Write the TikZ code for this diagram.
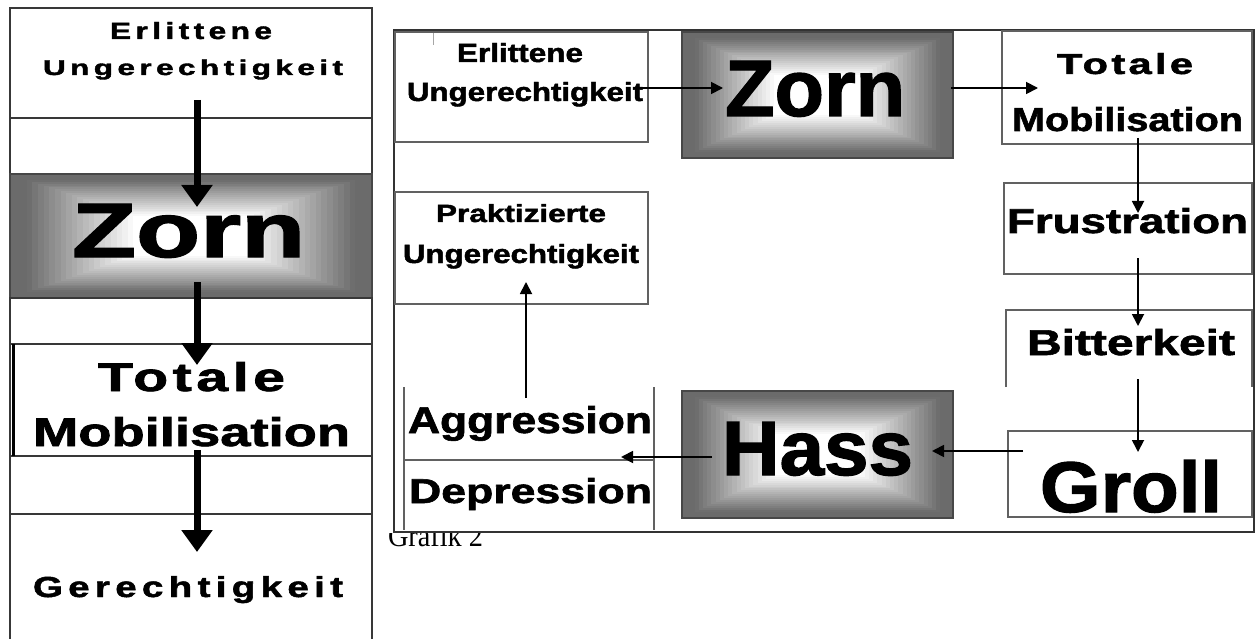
\documentclass[tikz,border=0pt]{standalone}
\usepackage{fontspec}
\setmainfont{Liberation Sans}
\newfontfamily\seriffont{Liberation Serif}
\newfontfamily\heavyfont[FakeBold=1.6]{Liberation Sans Bold}
\newfontfamily\heavyfontS[FakeBold=1.6,LetterSpace=8]{Liberation Sans Bold}
\newfontfamily\heavyfontM[FakeBold=1.6,LetterSpace=14]{Liberation Sans Bold}
\usepackage{graphicx}
\usetikzlibrary{calc,arrows.meta}
\newcommand{\fitT}[3]{\resizebox{#1pt}{#2pt}{\heavyfont #3}}
\newcommand{\fitS}[3]{\resizebox{#1pt}{#2pt}{\heavyfontS #3}}
\newcommand{\fitM}[3]{\resizebox{#1pt}{#2pt}{\heavyfontM #3}}
\tikzset{
  cellL/.style={draw=black!78, line width=1.4pt, inner sep=0pt, outer sep=0pt},
  boxR/.style={draw=black!62, line width=1.3pt, inner sep=0pt, outer sep=0pt},
  shadebox/.style={draw=black!72, line width=1.5pt, inner sep=0pt, outer sep=0pt,
    path picture={
      \foreach \k in {0,...,26}{
        \pgfmathsetmacro{\shT}{\k*0.0155}
        \pgfmathsetmacro{\shG}{min(1,max(0.42,0.42+0.58*(\shT-0.04)/0.30))}
        \definecolor{shd}{gray}{\shG}
        \fill[shd] ($(path picture bounding box.south west)!\shT!(path picture bounding box.north east)$)
          rectangle ($(path picture bounding box.north east)!\shT!(path picture bounding box.south west)$);
      }
    }},
  lbl/.style={inner sep=0pt, outer sep=0pt, anchor=base west, text=black},
  bigarrow/.style={line width=7pt, -{Triangle[length=22pt,width=30pt]}},
  smallarrow/.style={line width=1.8pt, -{Triangle[length=12pt,width=12pt]}},
  frameline/.style={draw=black!80, line width=2pt},
  openbox/.style={draw=black!62, line width=1.3pt},
}
\begin{document}
\begin{tikzpicture}[x=1pt, y=-1pt]
\useasboundingbox (0,0) rectangle (1255,639);
\fill[white] (0,0) rectangle (1255,639);

% ---------- left panel ----------
\node[cellL, minimum width=362pt, minimum height=110pt] (lTop) at (191,63) {};
\node[cellL, minimum width=362pt, minimum height=56pt] (lGap1) at (191,146) {};
\node[shadebox, minimum width=362pt, minimum height=124pt] (lZorn) at (191,236) {};
\node[cellL, minimum width=362pt, minimum height=46pt] (lGap2) at (191,321) {};
\node[cellL, minimum width=362pt, minimum height=112pt] (lTot) at (191,400) {};
\node[cellL, minimum width=362pt, minimum height=58pt] (lGap3) at (191,485) {};
\node[cellL, minimum width=362pt, minimum height=146pt] (lGer) at (191,587) {};
\draw[black, line width=3.5pt] (lTot.north west) ++(3.5pt,0) coordinate (lTotEdgeA) -- (lTotEdgeA |- lTot.south);

\node[lbl] (lErl) at (110,39) {\fitM{162}{17}{Erlittene}};
\node[lbl] (lUng) at (43,75) {\fitM{300}{15.5}{Ungerechtigkeit}};
\node[lbl] (lZornT) at (72,257) {\fitT{233}{53}{Zorn}};
\node[lbl] (lTotT) at (98,391) {\fitS{187}{29}{Totale}};
\node[lbl] (lMob) at (33,446) {\fitT{317}{29}{Mobilisation}};
\node[lbl] (lGerT) at (33,597) {\fitM{310}{21}{Gerechtigkeit}};

\coordinate (la1s) at (197,100);
\coordinate (la1e) at (197,207);
\coordinate (la2s) at (197,282);
\coordinate (la2e) at (197,365);
\coordinate (la3s) at (197,450);
\coordinate (la3e) at (197,552);
\draw[bigarrow] (la1s) -- (la1e);
\draw[bigarrow] (la2s) -- (la2e);
\draw[bigarrow] (la3s) -- (la3e);

% ---------- right panel ----------
\draw[frameline] (394,30) rectangle (1254,532);
\draw[gray!70, line width=1pt] (433,33) -- (433,45);

\node[boxR, minimum width=253pt, minimum height=110pt] (rErl) at (521.5,87) {};
\node[shadebox, minimum width=271pt, minimum height=126pt] (rZorn) at (817.5,95) {};
\node[boxR, minimum width=250pt, minimum height=113pt] (rTot) at (1127,87.5) {};
\node[boxR, minimum width=248pt, minimum height=91pt] (rFru) at (1128,228.5) {};
\draw[openbox] (1006,387) -- (1006,310) -- (1252,310) -- (1252,387);
\node[boxR, minimum width=244pt, minimum height=86pt] (rGro) at (1130,474) {};
\node[shadebox, minimum width=271pt, minimum height=127pt] (rHas) at (817.5,454.5) {};
\node[boxR, minimum width=253pt, minimum height=112pt] (rPra) at (521.5,248) {};
\draw[openbox] (404,387) -- (404,530);
\draw[openbox] (654,387) -- (654,530);
\draw[openbox] (404,460) -- (654,460);

\node[lbl] (rErlT) at (457,62) {\fitT{126}{19}{Erlittene}};
\node[lbl] (rUng1) at (407,101) {\fitT{236}{19}{Ungerechtigkeit}};
\node[lbl] (rZornT) at (725,116) {\fitT{180}{55}{Zorn}};
\node[lbl] (rTotT) at (1057,74) {\fitS{136}{21}{Totale}};
\node[lbl] (rMob) at (1012,131) {\fitT{231}{24}{Mobilisation}};
\node[lbl] (rFruT) at (1007,233) {\fitT{241}{25}{Frustration}};
\node[lbl] (rBitT) at (1027,355) {\fitT{208}{26}{Bitterkeit}};
\node[lbl] (rGroT) at (1040,512) {\fitT{182}{52}{Groll}};
\node[lbl] (rHasT) at (722,475) {\fitT{191}{53}{Hass}};
\node[lbl] (rPraT) at (436,222) {\fitT{170}{18}{Praktizierte}};
\node[lbl] (rUng2) at (403,263) {\fitT{236}{19}{Ungerechtigkeit}};
\node[lbl] (rAgg) at (408,433) {\fitT{244}{27}{Aggression}};
\node[lbl] (rDep) at (409,503) {\fitT{243}{25}{Depression}};

\coordinate (ra1s) at (640,88);   \coordinate (ra1e) at (723,88);
\coordinate (ra2s) at (951,88);   \coordinate (ra2e) at (1038,88);
\coordinate (ra3s) at (1138,138); \coordinate (ra3e) at (1138,213);
\coordinate (ra4s) at (1138,258); \coordinate (ra4e) at (1138,326);
\coordinate (ra5s) at (1138,379); \coordinate (ra5e) at (1138,452);
\coordinate (ra6s) at (1023,451); \coordinate (ra6e) at (932,451);
\coordinate (ra7s) at (712,457);  \coordinate (ra7e) at (621,457);
\coordinate (ra8s) at (526,398);  \coordinate (ra8e) at (526,282);
\foreach \a in {1,...,8}{\draw[smallarrow] (ra\a s) -- (ra\a e);}

\begin{scope}
  \clip (380,533.5) rectangle (520,575);
  \node[lbl] (graf) at (388,546) {\resizebox{95pt}{22pt}{\seriffont Grafik 2}};
\end{scope}
\end{tikzpicture}
\end{document}
